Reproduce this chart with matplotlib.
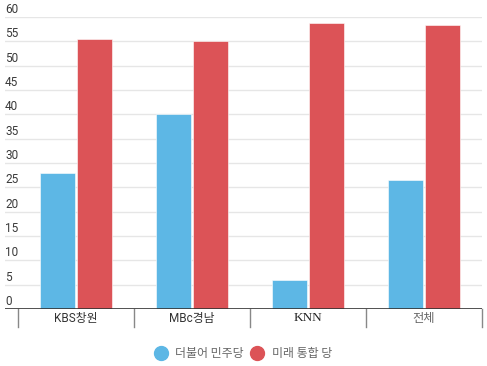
import matplotlib
matplotlib.use("Agg")
import matplotlib.pyplot as plt
from matplotlib.lines import Line2D
import matplotlib.transforms as mtransforms
import numpy as np

categories = ["KBS창원", "MBc경남", "KNN", "전체"]
series_names = ["더불어 민주당", "미래 통합 당"]
democratic = [28, 40, 6, 26.5]
future_united = [55.5, 55.1, 58.8, 58.4]
yticks = list(range(0, 65, 5))

blue = "#5db7e5"
red = "#dc5357"

plt.rcParams['font.family'] = ['Roboto', 'Noto Sans CJK KR', 'DejaVu Sans']
plt.rcParams['font.serif'] = ['Liberation Serif', 'DejaVu Serif']

fig = plt.figure(figsize=(4.87, 3.66), dpi=100)
W, H = 487, 366
ax = fig.add_axes([5 / W, 1 - 309 / H, 477 / W, (309 - 17) / H])

x = np.arange(len(categories)) + 0.5
bw = 0.30
off = 0.16
ax.bar(x - off, democratic, bw, color=blue, edgecolor="white", linewidth=0.4, zorder=3)
ax.bar(x + off, future_united, bw, color=red, edgecolor="white", linewidth=0.4, zorder=3)

ax.set_xlim(-13 / 116, len(categories))
ax.set_ylim(0, 60)
for s in ax.spines.values():
    s.set_visible(False)
ax.set_xticks([])
ax.set_yticks([])

for v in yticks:
    if v == 0:
        continue
    ax.axhline(v, color="#e6e6e6", linewidth=1.0, zorder=1)
ax.axhline(0, color="#333333", linewidth=1.2, zorder=4)

trans = mtransforms.blended_transform_factory(ax.transAxes, ax.transData)
for v in yticks:
    ax.text(0.0, v + 0.2, str(v), transform=trans, ha="left", va="bottom",
            fontsize=8.5, color="#3a3a3a", family=['Roboto', 'DejaVu Sans'])

# category separators below axis
for i in range(len(categories) + 1):
    ax.plot([i, i], [0, -3.7], color="#888888", linewidth=1.0, clip_on=False, zorder=2)

label_styles = [
    dict(color="#333333", family=['Roboto', 'Noto Sans CJK KR'], fontsize=8.5),
    dict(color="#333333", family=['Roboto', 'Noto Sans CJK KR'], fontsize=8.5),
    dict(color="#222222", family='serif', fontsize=9.5),
    dict(color="#666666", family=['Noto Sans CJK KR'], fontsize=8.8),
]
for xi, lab, st in zip(x, categories, label_styles):
    ax.text(xi, -1.9, lab, ha="center", va="center", **st)

handles = [Line2D([], [], marker="o", linestyle="none", markersize=10,
                  markerfacecolor=c, markeredgecolor=c) for c in (blue, red)]
leg = fig.legend(handles, series_names, loc="center", bbox_to_anchor=(0.5, 1 - 354 / H),
                 ncol=2, frameon=False, handlelength=1.0, handletextpad=0.7,
                 columnspacing=0.6, prop={'family': ['Noto Sans CJK KR'], 'size': 8.6})
for t in leg.get_texts():
    t.set_color("#666666")

fig.savefig("out.png", dpi=100)
